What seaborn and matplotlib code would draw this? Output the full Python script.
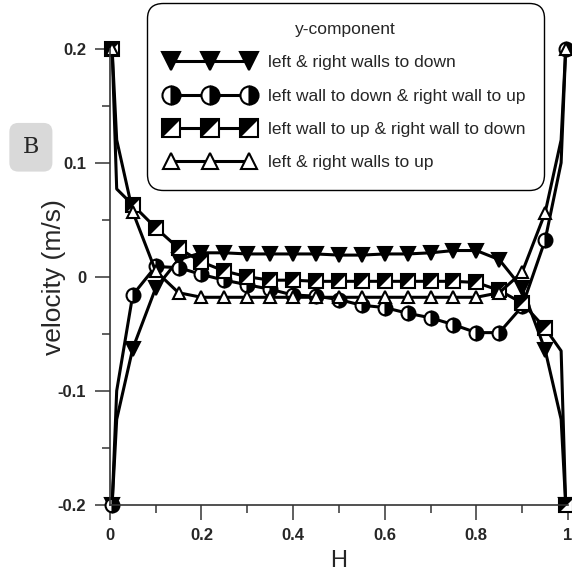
import numpy as np
import seaborn as sns
import matplotlib
matplotlib.use('Agg')
import matplotlib.pyplot as plt
from matplotlib.lines import Line2D
from matplotlib.legend_handler import HandlerTuple

# H positions (0.015 / 0.985 are curve points without a marker)
h = [0.005, 0.015, 0.05, 0.10, 0.15, 0.20, 0.25, 0.30, 0.35, 0.40, 0.45, 0.50,
     0.55, 0.60, 0.65, 0.70, 0.75, 0.80, 0.85, 0.90, 0.95, 0.985, 0.995]

walls_down = [-0.2, -0.125, -0.063, -0.010, 0.015, 0.021, 0.021, 0.020, 0.020,
              0.020, 0.020, 0.019, 0.019, 0.020, 0.020, 0.021, 0.023, 0.023,
              0.015, -0.010, -0.064, -0.125, -0.2]
left_down_right_up = [-0.2, -0.100, -0.016, 0.009, 0.008, 0.002, -0.003, -0.007,
                      -0.011, -0.016, -0.017, -0.020, -0.025, -0.027, -0.032,
                      -0.036, -0.042, -0.049, -0.049, -0.026, 0.032, 0.100, 0.2]
left_up_right_down = [0.2, 0.077, 0.063, 0.043, 0.025, 0.013, 0.005, 0.000,
                      -0.003, -0.003, -0.004, -0.004, -0.004, -0.004, -0.004,
                      -0.004, -0.004, -0.005, -0.012, -0.023, -0.045, -0.065, -0.2]
walls_up = [0.2, 0.120, 0.057, 0.005, -0.014, -0.018, -0.018, -0.018, -0.018,
            -0.018, -0.018, -0.018, -0.018, -0.018, -0.018, -0.018, -0.018,
            -0.018, -0.014, 0.004, 0.056, 0.120, 0.2]

labels = ['left & right walls to down',
          'left wall to down & right wall to up',
          'left wall to up & right wall to down',
          'left & right walls to up']

mark_idx = [i for i in range(len(h)) if i not in (1, len(h) - 2)]
half_tri = [(-1, -1), (-1, 1), (1, 1), (-1, -1)]

sns.set_style('ticks')
plt.rcParams['font.family'] = ['Liberation Sans', 'DejaVu Sans']

fig = plt.figure(figsize=(5.72, 5.73), dpi=100)
ax = fig.add_axes([0.192, 0.119, 0.801, 0.796])

base = dict(color='k', linewidth=2.2, markeredgecolor='k', markeredgewidth=1.5,
            clip_on=False, markevery=mark_idx)

sns.lineplot(x=h, y=walls_down, ax=ax, marker='v', markersize=10,
             markerfacecolor='k', **base)
sns.lineplot(x=h, y=left_down_right_up, ax=ax, marker='o', markersize=10,
             fillstyle='right', markerfacecolor='k', markerfacecoloralt='w', **base)
sns.lineplot(x=h, y=left_up_right_down, ax=ax, marker='s', markersize=10,
             markerfacecolor='w', **base)
sns.lineplot(x=np.array(h)[mark_idx], y=np.array(left_up_right_down)[mark_idx],
             ax=ax, marker=half_tri, markersize=10, linestyle='', color='k',
             markerfacecolor='k', markeredgewidth=0, clip_on=False)
sns.lineplot(x=h, y=walls_up, ax=ax, marker='^', markersize=9,
             markerfacecolor='w', **base)

ax.set_xlim(0, 1)
ax.set_ylim(-0.2, 0.2)
ax.set_xticks([0, 0.2, 0.4, 0.6, 0.8, 1.0])
ax.set_xticklabels(['0', '0.2', '0.4', '0.6', '0.8', '1'])
ax.set_xticks([0.1, 0.3, 0.5, 0.7, 0.9], minor=True)
ax.set_yticks([-0.2, -0.1, 0, 0.1, 0.2])
ax.set_yticklabels(['-0.2', '-0.1', '0', '0.1', '0.2'])
ax.set_yticks([-0.15, -0.05, 0.05, 0.15], minor=True)
ax.tick_params(which='major', length=11, width=1.2, color='#444', labelsize=12, pad=6)
ax.tick_params(which='minor', length=6, width=1.2, color='#444')
for t in ax.get_xticklabels() + ax.get_yticklabels():
    t.set_fontweight('bold')
sns.despine(ax=ax)
for s in ['left', 'bottom']:
    ax.spines[s].set_color('#333')
    ax.spines[s].set_linewidth(1.2)

ax.set_xlabel('H', fontsize=17, labelpad=5)
ax.set_ylabel('velocity (m/s)', fontsize=19, labelpad=-6)

# legend
kw = dict(color='k', linewidth=2.2, markeredgecolor='k', markeredgewidth=1.5)
h1 = Line2D([], [], marker='v', markersize=10, markerfacecolor='k', **kw)
h2 = Line2D([], [], marker='o', markersize=10, fillstyle='right',
            markerfacecolor='k', markerfacecoloralt='w', **kw)
h3a = Line2D([], [], marker='s', markersize=10, markerfacecolor='w', **kw)
h3b = Line2D([], [], marker=half_tri, markersize=10, linestyle='', color='k',
             markerfacecolor='k', markeredgewidth=0)
h4 = Line2D([], [], marker='^', markersize=9, markerfacecolor='w', **kw)
leg = ax.legend([h1, h2, (h3a, h3b), h4], labels, title='y-component',
                handler_map={tuple: HandlerTuple(ndivide=1)},
                loc='upper left', bbox_to_anchor=(0.257, 0.995),
                bbox_transform=fig.transFigure, borderaxespad=0,
                numpoints=3, markerscale=1.3,
                handlelength=5.1, handletextpad=0.75, labelspacing=1.05,
                borderpad=1.1, fancybox=True, framealpha=1, edgecolor='k',
                prop={'size': 12.5}, title_fontproperties={'size': 12.5})
leg.get_frame().set_boxstyle('round', pad=0, rounding_size=0.9)
leg.get_frame().set_linewidth(1.0)

fig.text(0.054, 0.743, 'B', fontsize=16, family='DejaVu Serif', ha='center', va='center',
         bbox=dict(boxstyle='round,pad=0.6,rounding_size=0.4', fc='#d9d9d9', ec='none'))

fig.savefig('out.png', dpi=100)
